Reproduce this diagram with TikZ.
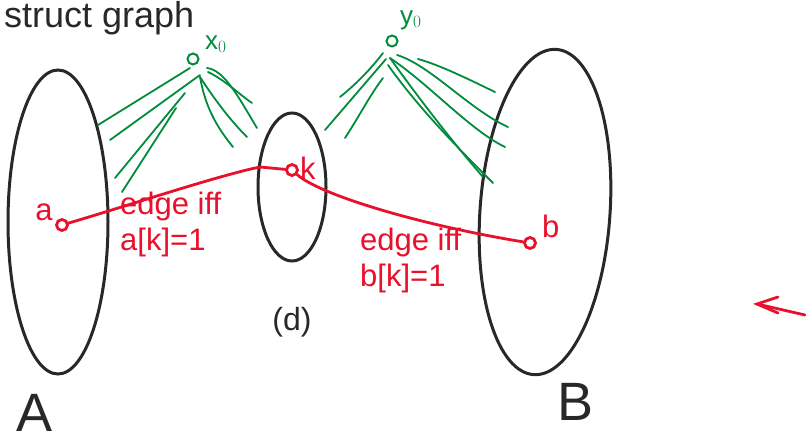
\documentclass[tikz,border=0pt]{standalone}
\usepackage{fontspec}
\setmainfont{Liberation Sans}
\definecolor{pgreen}{RGB}{0,140,60}
\definecolor{pred}{RGB}{232,16,42}
\definecolor{pblack}{RGB}{40,40,40}
\begin{document}
\begin{tikzpicture}[x=1pt,y=-1pt,
  blob/.style={draw=pblack,line width=3pt},
  gline/.style={draw=pgreen,line width=1.8pt,line cap=round},
  rline/.style={draw=pred,line width=2.8pt,line cap=round},
  gdot/.style={circle,draw=pgreen,line width=2pt,minimum size=11pt,inner sep=0pt},
  rdot/.style={circle,draw=pred,line width=2.8pt,minimum size=11pt,inner sep=0pt},
  rtext/.style={text=pred,font=\fontsize{31}{36}\selectfont,align=left,inner sep=0pt},
  gtext/.style={text=pgreen,font=\fontsize{26}{26}\selectfont,inner sep=0pt},
  btext/.style={text=pblack,inner sep=0pt}]
\useasboundingbox (0,0) rectangle (806,445);
% title
\node[btext,anchor=north west,font=\fontsize{36}{36}\selectfont] (title) at (4,1) {struct graph};
% blobs
\draw[blob] (58,222) ellipse [x radius=50, y radius=152];
\coordinate (A) at (58,222);
\draw[blob] (292,187) ellipse [x radius=34, y radius=74];
\coordinate (D) at (292,187);
\draw[blob,rotate around={-4:(545,212)}] (545,212) ellipse [x radius=65, y radius=163];
\coordinate (B) at (545,212);
% green nodes
\node[gdot] (x0) at (193,59) {};
\node[gtext,anchor=west] (x0l) at (205,44) {x$_0$};
\node[gdot] (y0) at (392,41) {};
\node[gtext,anchor=west] (y0l) at (400,20) {y$_0$};
% green fan x0
\draw[gline] (190,68) -- (98,125);
\draw[gline] (200,75) -- (110,140);
\draw[gline] (185,93) -- (115,178);
\draw[gline] (176,108) -- (122,192);
\draw[gline] (200,77) .. controls (205,105) and (215,125) .. (233,147);
\draw[gline] (200,77) .. controls (215,100) and (230,120) .. (247,137);
\draw[gline] (207,68) .. controls (225,70) and (240,100) .. (257,128);
\draw[gline] (208,72) .. controls (225,80) and (240,95) .. (252,103);
% green fan y0
\draw[gline] (383,53) .. controls (370,70) and (355,85) .. (340,97);
\draw[gline] (386,59) -- (325,130);
\draw[gline] (383,78) .. controls (370,95) and (360,115) .. (345,138);
\draw[gline] (397,55) .. controls (430,65) and (470,110) .. (508,127);
\draw[gline] (390,58) .. controls (430,85) and (470,130) .. (505,147);
\draw[gline] (388,65) .. controls (420,110) and (460,150) .. (493,183);
\draw[gline] (390,58) .. controls (420,100) and (455,145) .. (483,177);
\draw[gline] (418,59) .. controls (440,65) and (470,80) .. (495,92);
% red nodes
\node[rdot] (a) at (62,225) {};
\node[rtext,anchor=center] (al) at (44,212) {a};
\node[rdot] (k) at (292,170) {};
\node[rtext,anchor=west] (kl) at (300,168) {k};
\node[rdot] (b) at (530,243) {};
\node[rtext,anchor=west] (bl) at (542,226) {b};
\draw[rline] (a) .. controls (130,205) and (220,175) .. (260,167) -- (k);
\draw[rline] (k) .. controls (320,195) and (420,225) .. (b);
% red labels
\node[rtext,anchor=north west] (l1) at (120,192) {edge iff\\a[k]=1};
\node[rtext,anchor=north west] (l2) at (360,228) {edge iff\\b[k]=1};
% black labels
\node[btext,font=\fontsize{32}{32}\selectfont] (dl) at (292,322) {(d)};
\node[btext,anchor=base,font=\fontsize{54}{54}\selectfont] (Al) at (35,431) {A};
\node[btext,anchor=base,font=\fontsize{54}{54}\selectfont] (Bl) at (576,420) {B};
% red arrow
\coordinate (arrS) at (805,315);
\coordinate (arrT) at (757,304);
\draw[rline] (arrS) -- (arrT);
\draw[rline] (778,297) -- (arrT) -- (778,313);
\end{tikzpicture}
\end{document}
